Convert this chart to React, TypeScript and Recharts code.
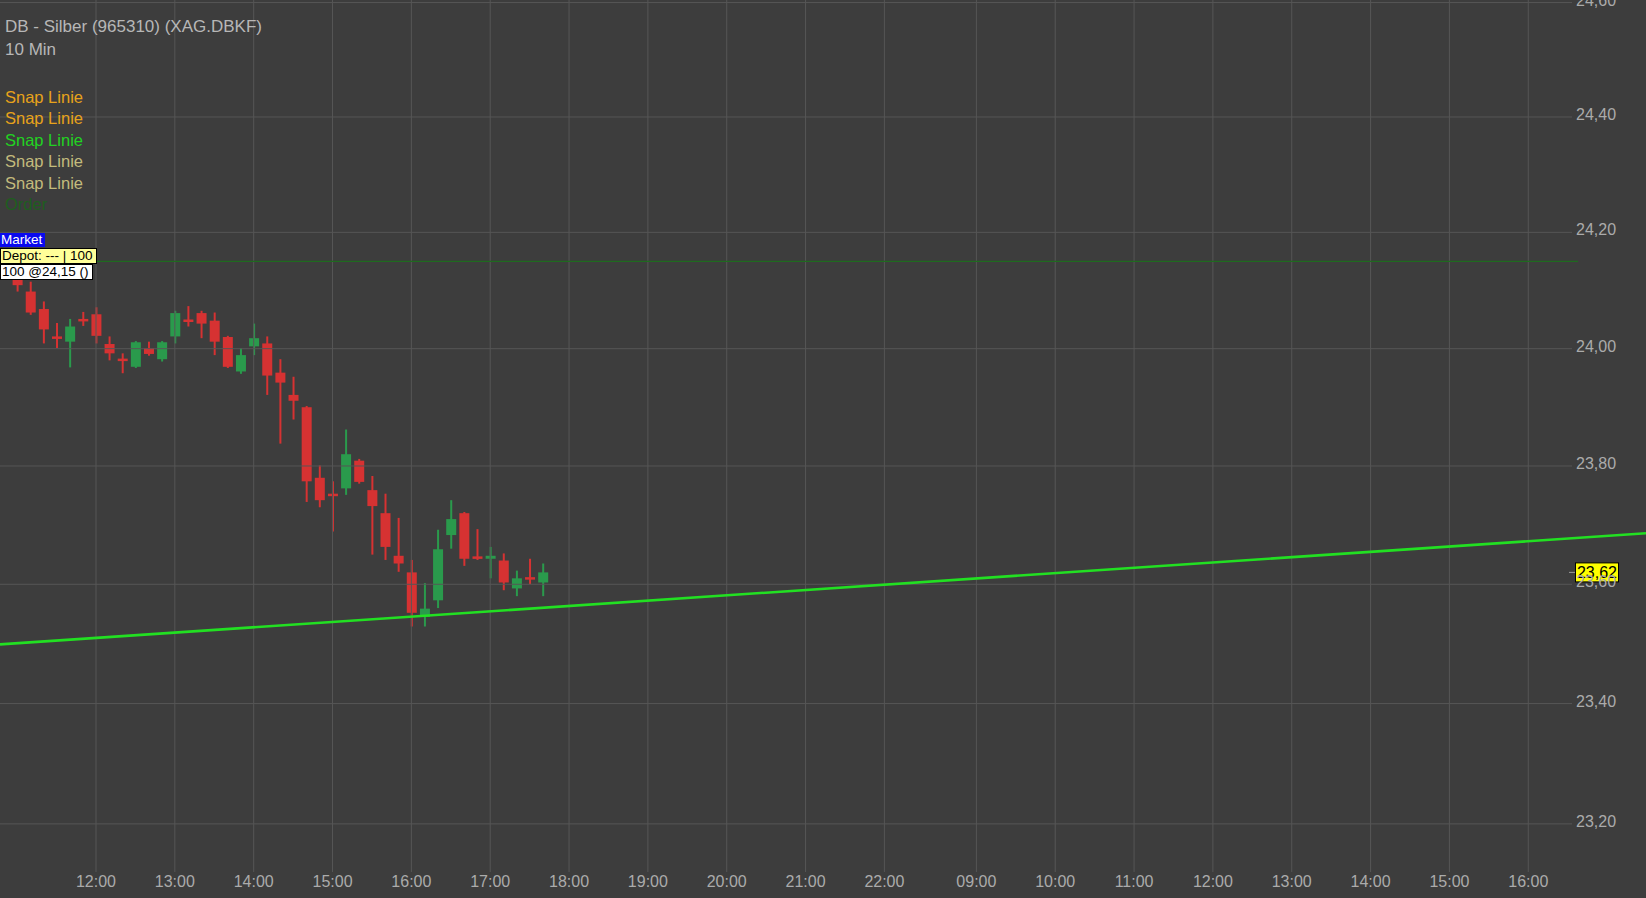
import { ComposedChart, Bar, XAxis, YAxis, ReferenceLine } from "recharts";

// 10-minute candles, DB - Silber
const candleTimes = [
  "11:00", "11:10", "11:20", "11:30", "11:40", "11:50",
  "12:00", "12:10", "12:20", "12:30", "12:40", "12:50",
  "13:00", "13:10", "13:20", "13:30", "13:40", "13:50",
  "14:00", "14:10", "14:20", "14:30", "14:40", "14:50",
  "15:00", "15:10", "15:20", "15:30", "15:40", "15:50",
  "16:00", "16:10", "16:20", "16:30", "16:40", "16:50",
  "17:00", "17:10", "17:20", "17:30", "17:40",
];
const opens = [
  24.118, 24.098, 24.068, 24.021, 24.012, 24.051,
  24.059, 24.008, 23.983, 23.969, 24.001, 23.982,
  24.021, 24.05, 24.061, 24.048, 24.02, 23.961,
  24.004, 24.009, 23.959, 23.921, 23.9, 23.78,
  23.753, 23.762, 23.809, 23.759, 23.72, 23.648,
  23.62, 23.545, 23.573, 23.683, 23.72, 23.647,
  23.643, 23.64, 23.593, 23.612, 23.603,
];
const highs = [
  24.125, 24.115, 24.081, 24.044, 24.051, 24.063,
  24.071, 24.021, 23.992, 24.013, 24.012, 24.013,
  24.065, 24.073, 24.065, 24.062, 24.022, 24.001,
  24.043, 24.021, 23.982, 23.952, 23.902, 23.801,
  23.774, 23.862, 23.812, 23.783, 23.753, 23.712,
  23.641, 23.602, 23.692, 23.742, 23.722, 23.693,
  23.663, 23.652, 23.623, 23.643, 23.635,
];
const lows = [
  24.098, 24.058, 24.009, 24.001, 23.968, 24.039,
  24.009, 23.98, 23.958, 23.967, 23.988, 23.978,
  24.009, 24.038, 24.018, 23.989, 23.967, 23.957,
  23.989, 23.921, 23.838, 23.879, 23.739, 23.73,
  23.689, 23.751, 23.77, 23.65, 23.641, 23.621,
  23.529, 23.529, 23.56, 23.66, 23.631, 23.641,
  23.61, 23.59, 23.58, 23.6, 23.58,
];
const closes = [
  24.109, 24.062, 24.033, 24.017, 24.038, 24.048,
  24.022, 23.992, 23.979, 24.011, 23.991, 24.011,
  24.061, 24.046, 24.043, 24.012, 23.969, 23.989,
  24.018, 23.954, 23.942, 23.911, 23.774, 23.742,
  23.75, 23.82, 23.773, 23.732, 23.663, 23.635,
  23.552, 23.559, 23.659, 23.71, 23.643, 23.643,
  23.648, 23.603, 23.61, 23.608, 23.62,
];

// time axis: slot = 10-minute bar index, 12:00 (day 1) = 0, overnight gap is 7 bars
const timeTickSlots = [0, 6, 12, 18, 24, 30, 36, 42, 48, 54, 60, 67, 73, 79, 85, 91, 97, 103, 109];
const timeTickLabels = [
  "12:00", "13:00", "14:00", "15:00", "16:00", "17:00", "18:00", "19:00", "20:00", "21:00",
  "22:00", "09:00", "10:00", "11:00", "12:00", "13:00", "14:00", "15:00", "16:00",
];
const priceTicks = [23.2, 23.4, 23.6, 23.8, 24.0, 24.2, 24.4, 24.6];

const trendStart = 23.499;
const trendEnd = 23.686;
const orderPrice = 24.15;
const lastPrice = 23.62;

const titleLines = ["DB - Silber (965310) (XAG.DBKF)", "10 Min"];
const legendLabels = ["Snap Linie", "Snap Linie", "Snap Linie", "Snap Linie", "Snap Linie", "Order"];
const legendColors = ["#e8a31a", "#e8a31a", "#22d322", "#c3bb7c", "#c3bb7c", "#1d5f1d"];

// layout
const W = 1646;
const H = 898;
const SLOT_PX = 13.14;
const ORIGIN_PX = 96;
const AXIS_H = 26;
const GRID_END_PX = 1572;
const ORDER_END_PX = 1578;
const Y_LABEL_X = 1576;
const X_LABEL_Y = 887;
const BG = "#3d3d3d";
const GRID = "#565656";
const TEXT = "#ababab";
const RED = "#d63232";
const GREEN = "#2a9a4c";
const FONT = "'Liberation Sans', Arial, sans-serif";

const pxToSlot = (px: number) => (px - ORIGIN_PX) / SLOT_PX;
const xMin = pxToSlot(0);
const xMax = pxToSlot(W);
// price axis is logarithmic
const yMin = 23.1205;
const yMax = 24.6045;

const toSlot = (t: string) => {
  const [h, m] = t.split(":").map(Number);
  return (h * 60 + m - 720) / 10;
};

const data = candleTimes.map((t, i) => ({
  slot: toSlot(t),
  range: [lows[i], highs[i]],
  open: opens[i],
  high: highs[i],
  low: lows[i],
  close: closes[i],
}));

const fmtPrice = (v: number) => v.toFixed(2).replace(".", ",");

// eslint-disable-next-line @typescript-eslint/no-explicit-any
const Candle = (props: any) => {
  const { x, y, width, height, payload } = props;
  if (!payload) return null;
  const { open, close, high, low } = payload;
  const color = close >= open ? GREEN : RED;
  const h = Math.abs(height);
  const top = height >= 0 ? y : y + height;
  // log scale: position inside the candle by log price
  const ppu = h / (Math.log(high) - Math.log(low));
  const bTop = top + (Math.log(high) - Math.log(Math.max(open, close))) * ppu;
  const bBot = top + (Math.log(high) - Math.log(Math.min(open, close))) * ppu;
  const cx = x + width / 2;
  return (
    <g>
      <rect x={cx - 1} y={top} width={2} height={h} fill={color} />
      <rect x={x} y={bTop} width={width} height={Math.max(2.5, bBot - bTop)} fill={color} />
    </g>
  );
};

// eslint-disable-next-line @typescript-eslint/no-explicit-any
const TimeTick = ({ x, payload }: any) => {
  const idx = timeTickSlots.indexOf(payload.value);
  return (
    <text x={x} y={X_LABEL_Y} textAnchor="middle" fill={TEXT} fontSize={16} fontFamily={FONT}>
      {timeTickLabels[idx]}
    </text>
  );
};

// eslint-disable-next-line @typescript-eslint/no-explicit-any
const PriceTick = ({ y, payload }: any) => (
  <text x={Y_LABEL_X} y={y + 3} textAnchor="start" fill={TEXT} fontSize={16} fontFamily={FONT}>
    {fmtPrice(payload.value)}
  </text>
);

// eslint-disable-next-line @typescript-eslint/no-explicit-any
const PriceTag = ({ viewBox }: any) => {
  if (!viewBox) return null;
  const y = viewBox.y;
  return (
    <g>
      <line x1={Y_LABEL_X - 7} x2={Y_LABEL_X - 1} y1={y} y2={y} stroke="#9a9a9a" />
      <rect x={Y_LABEL_X - 0.5} y={y - 9.5} width={43} height={19} fill="#ffff00" stroke="#000" />
      <text x={Y_LABEL_X + 21} y={y + 6} textAnchor="middle" fill="#000" fontSize={16} fontFamily={FONT}>
        {fmtPrice(lastPrice)}
      </text>
    </g>
  );
};

const boxStyle = {
  position: "absolute" as const,
  left: 0,
  fontFamily: FONT,
  fontSize: 13.5,
  lineHeight: "14px",
  padding: "0 2px 0 1px",
  whiteSpace: "nowrap" as const,
  boxSizing: "border-box" as const,
};

export default function App() {
  return (
    <div style={{ position: "fixed", left: 0, top: 0, width: W, height: H, background: BG, overflow: "hidden" }}>
      <ComposedChart width={W} height={H} data={data} margin={{ top: 0, right: 0, bottom: 0, left: 0 }}>
        <XAxis
          dataKey="slot"
          type="number"
          domain={[xMin, xMax]}
          allowDataOverflow
          ticks={timeTickSlots}
          interval={0}
          height={AXIS_H}
          axisLine={false}
          tickLine={false}
          tick={<TimeTick />}
        />
        <YAxis
          type="number"
          scale="log"
          orientation="right"
          mirror
          domain={[yMin, yMax]}
          allowDataOverflow
          ticks={priceTicks}
          interval={0}
          width={70}
          axisLine={false}
          tickLine={false}
          tick={<PriceTick />}
        />
        {timeTickSlots.map((s) => (
          <ReferenceLine key={`v-${s}`} x={s} stroke={GRID} strokeWidth={1} />
        ))}
        {priceTicks.map((p) => (
          <ReferenceLine
            key={`h-${p}`}
            segment={[{ x: xMin, y: p }, { x: pxToSlot(GRID_END_PX), y: p }]}
            stroke={GRID}
            strokeWidth={1}
          />
        ))}
        <ReferenceLine
          segment={[{ x: xMin, y: orderPrice }, { x: pxToSlot(ORDER_END_PX), y: orderPrice }]}
          stroke="#1f6a1f"
          strokeWidth={1.2}
        />
        <Bar dataKey="range" barSize={10} shape={<Candle />} isAnimationActive={false} />
        <ReferenceLine
          segment={[{ x: xMin, y: trendStart }, { x: xMax, y: trendEnd }]}
          stroke="#22e022"
          strokeWidth={2.6}
        />
        <ReferenceLine y={lastPrice} stroke="none" label={<PriceTag />} />
      </ComposedChart>

      <div style={{ position: "absolute", left: 5, top: 17, fontFamily: FONT, fontSize: 17, lineHeight: "20px", color: "#b7b7b7" }}>
        {titleLines[0]}
      </div>
      <div style={{ position: "absolute", left: 5, top: 40, fontFamily: FONT, fontSize: 17, lineHeight: "20px", color: "#b7b7b7" }}>
        {titleLines[1]}
      </div>
      {legendLabels.map((l, i) => (
        <div
          key={i}
          style={{
            position: "absolute",
            left: 5,
            top: 87 + i * 21.4,
            fontFamily: FONT,
            fontSize: 16.5,
            lineHeight: "21px",
            color: legendColors[i],
          }}
        >
          {l}
        </div>
      ))}

      <div style={{ ...boxStyle, top: 233, height: 14, width: 45, background: "#0a0aee", color: "#fff" }}>Market</div>
      <div style={{ ...boxStyle, top: 248, height: 16, width: 97, background: "#ffff99", color: "#000", border: "1px solid #000" }}>
        Depot: --- | 100
      </div>
      <div style={{ ...boxStyle, top: 264, height: 16, width: 93, background: "#fff", color: "#000", border: "1px solid #000" }}>
        100 @24,15 ()
      </div>
    </div>
  );
}
